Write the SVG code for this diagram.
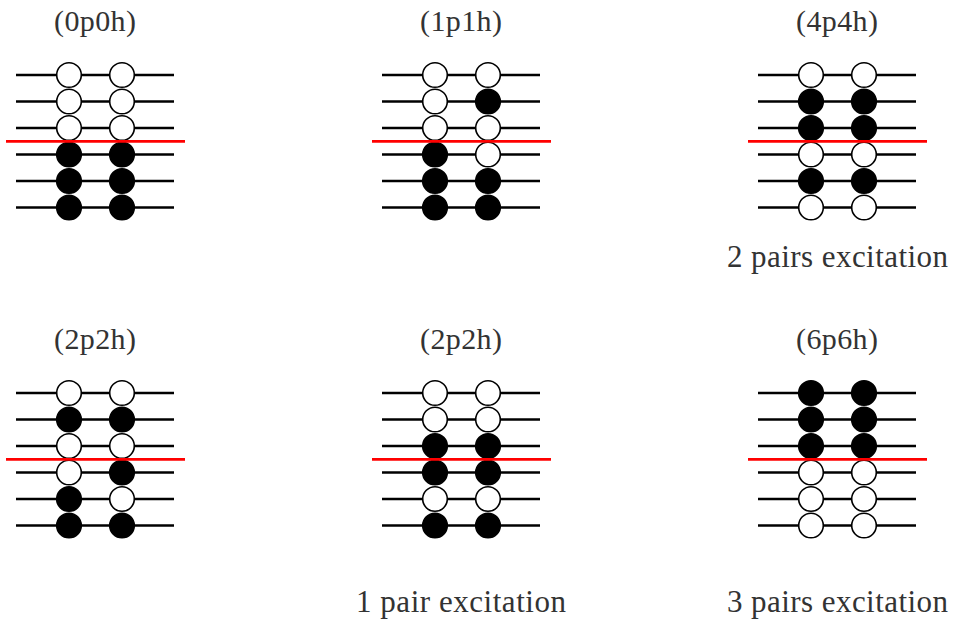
<svg xmlns="http://www.w3.org/2000/svg" xmlns:xlink="http://www.w3.org/1999/xlink" width="953" height="628" viewBox="0 0 953 628">
<style>
.lvl{stroke:#000;stroke-width:2.3;fill:none}
.fermi{stroke:#ff0000;stroke-width:2.8;fill:none}
.e{fill:#fff;stroke:#000;stroke-width:1.6}
.f{fill:#000;stroke:#000;stroke-width:1.6}
.t{font-family:"Liberation Serif","DejaVu Serif",serif;font-size:30px;fill:#333;text-anchor:middle}
.c{font-family:"Liberation Serif","DejaVu Serif",serif;font-size:31px;fill:#333}
</style>
<defs>
<g id="levels">
<line class="lvl" x1="16" y1="75" x2="174" y2="75"/>
<line class="lvl" x1="16" y1="101.5" x2="174" y2="101.5"/>
<line class="lvl" x1="16" y1="128" x2="174" y2="128"/>
<line class="lvl" x1="16" y1="154.5" x2="174" y2="154.5"/>
<line class="lvl" x1="16" y1="181" x2="174" y2="181"/>
<line class="lvl" x1="16" y1="207.5" x2="174" y2="207.5"/>
</g>
<line id="fermiline" class="fermi" x1="6" y1="141.3" x2="185" y2="141.3"/>
</defs>

<g id="panel-0p0h">
<text class="t" x="95" y="30.5" textLength="82" lengthAdjust="spacing">(0p0h)</text>
<use xlink:href="#levels"/>
<circle class="e" cx="69" cy="75" r="12.3"/><circle class="e" cx="122" cy="75" r="12.3"/>
<circle class="e" cx="69" cy="101.5" r="12.3"/><circle class="e" cx="122" cy="101.5" r="12.3"/>
<circle class="e" cx="69" cy="128" r="12.3"/><circle class="e" cx="122" cy="128" r="12.3"/>
<circle class="f" cx="69" cy="154.5" r="12.3"/><circle class="f" cx="122" cy="154.5" r="12.3"/>
<circle class="f" cx="69" cy="181" r="12.3"/><circle class="f" cx="122" cy="181" r="12.3"/>
<circle class="f" cx="69" cy="207.5" r="12.3"/><circle class="f" cx="122" cy="207.5" r="12.3"/>
<use xlink:href="#fermiline"/>
</g>

<g id="panel-1p1h" transform="translate(366,0)">
<text class="t" x="95" y="30.5" textLength="82" lengthAdjust="spacing">(1p1h)</text>
<use xlink:href="#levels"/>
<circle class="e" cx="69" cy="75" r="12.3"/><circle class="e" cx="122" cy="75" r="12.3"/>
<circle class="e" cx="69" cy="101.5" r="12.3"/><circle class="f" cx="122" cy="101.5" r="12.3"/>
<circle class="e" cx="69" cy="128" r="12.3"/><circle class="e" cx="122" cy="128" r="12.3"/>
<circle class="f" cx="69" cy="154.5" r="12.3"/><circle class="e" cx="122" cy="154.5" r="12.3"/>
<circle class="f" cx="69" cy="181" r="12.3"/><circle class="f" cx="122" cy="181" r="12.3"/>
<circle class="f" cx="69" cy="207.5" r="12.3"/><circle class="f" cx="122" cy="207.5" r="12.3"/>
<use xlink:href="#fermiline"/>
</g>

<g id="panel-4p4h" transform="translate(742,0)">
<text class="t" x="95" y="30.5" textLength="82" lengthAdjust="spacing">(4p4h)</text>
<use xlink:href="#levels"/>
<circle class="e" cx="69" cy="75" r="12.3"/><circle class="e" cx="122" cy="75" r="12.3"/>
<circle class="f" cx="69" cy="101.5" r="12.3"/><circle class="f" cx="122" cy="101.5" r="12.3"/>
<circle class="f" cx="69" cy="128" r="12.3"/><circle class="f" cx="122" cy="128" r="12.3"/>
<circle class="e" cx="69" cy="154.5" r="12.3"/><circle class="e" cx="122" cy="154.5" r="12.3"/>
<circle class="f" cx="69" cy="181" r="12.3"/><circle class="f" cx="122" cy="181" r="12.3"/>
<circle class="e" cx="69" cy="207.5" r="12.3"/><circle class="e" cx="122" cy="207.5" r="12.3"/>
<use xlink:href="#fermiline"/>
<text class="c" x="-15" y="267" textLength="221" lengthAdjust="spacing">2 pairs excitation</text>
</g>

<g id="panel-2p2h-a" transform="translate(0,318)">
<text class="t" x="95" y="30.5" textLength="82" lengthAdjust="spacing">(2p2h)</text>
<use xlink:href="#levels"/>
<circle class="e" cx="69" cy="75" r="12.3"/><circle class="e" cx="122" cy="75" r="12.3"/>
<circle class="f" cx="69" cy="101.5" r="12.3"/><circle class="f" cx="122" cy="101.5" r="12.3"/>
<circle class="e" cx="69" cy="128" r="12.3"/><circle class="e" cx="122" cy="128" r="12.3"/>
<circle class="e" cx="69" cy="154.5" r="12.3"/><circle class="f" cx="122" cy="154.5" r="12.3"/>
<circle class="f" cx="69" cy="181" r="12.3"/><circle class="e" cx="122" cy="181" r="12.3"/>
<circle class="f" cx="69" cy="207.5" r="12.3"/><circle class="f" cx="122" cy="207.5" r="12.3"/>
<use xlink:href="#fermiline"/>
</g>

<g id="panel-2p2h-b" transform="translate(366,318)">
<text class="t" x="95" y="30.5" textLength="82" lengthAdjust="spacing">(2p2h)</text>
<use xlink:href="#levels"/>
<circle class="e" cx="69" cy="75" r="12.3"/><circle class="e" cx="122" cy="75" r="12.3"/>
<circle class="e" cx="69" cy="101.5" r="12.3"/><circle class="e" cx="122" cy="101.5" r="12.3"/>
<circle class="f" cx="69" cy="128" r="12.3"/><circle class="f" cx="122" cy="128" r="12.3"/>
<circle class="f" cx="69" cy="154.5" r="12.3"/><circle class="f" cx="122" cy="154.5" r="12.3"/>
<circle class="e" cx="69" cy="181" r="12.3"/><circle class="e" cx="122" cy="181" r="12.3"/>
<circle class="f" cx="69" cy="207.5" r="12.3"/><circle class="f" cx="122" cy="207.5" r="12.3"/>
<use xlink:href="#fermiline"/>
<text class="c" x="-10" y="293.5" textLength="210" lengthAdjust="spacing">1 pair excitation</text>
</g>

<g id="panel-6p6h" transform="translate(742,318)">
<text class="t" x="95" y="30.5" textLength="82" lengthAdjust="spacing">(6p6h)</text>
<use xlink:href="#levels"/>
<circle class="f" cx="69" cy="75" r="12.3"/><circle class="f" cx="122" cy="75" r="12.3"/>
<circle class="f" cx="69" cy="101.5" r="12.3"/><circle class="f" cx="122" cy="101.5" r="12.3"/>
<circle class="f" cx="69" cy="128" r="12.3"/><circle class="f" cx="122" cy="128" r="12.3"/>
<circle class="e" cx="69" cy="154.5" r="12.3"/><circle class="e" cx="122" cy="154.5" r="12.3"/>
<circle class="e" cx="69" cy="181" r="12.3"/><circle class="e" cx="122" cy="181" r="12.3"/>
<circle class="e" cx="69" cy="207.5" r="12.3"/><circle class="e" cx="122" cy="207.5" r="12.3"/>
<use xlink:href="#fermiline"/>
<text class="c" x="-15" y="293.5" textLength="221" lengthAdjust="spacing">3 pairs excitation</text>
</g>
</svg>
